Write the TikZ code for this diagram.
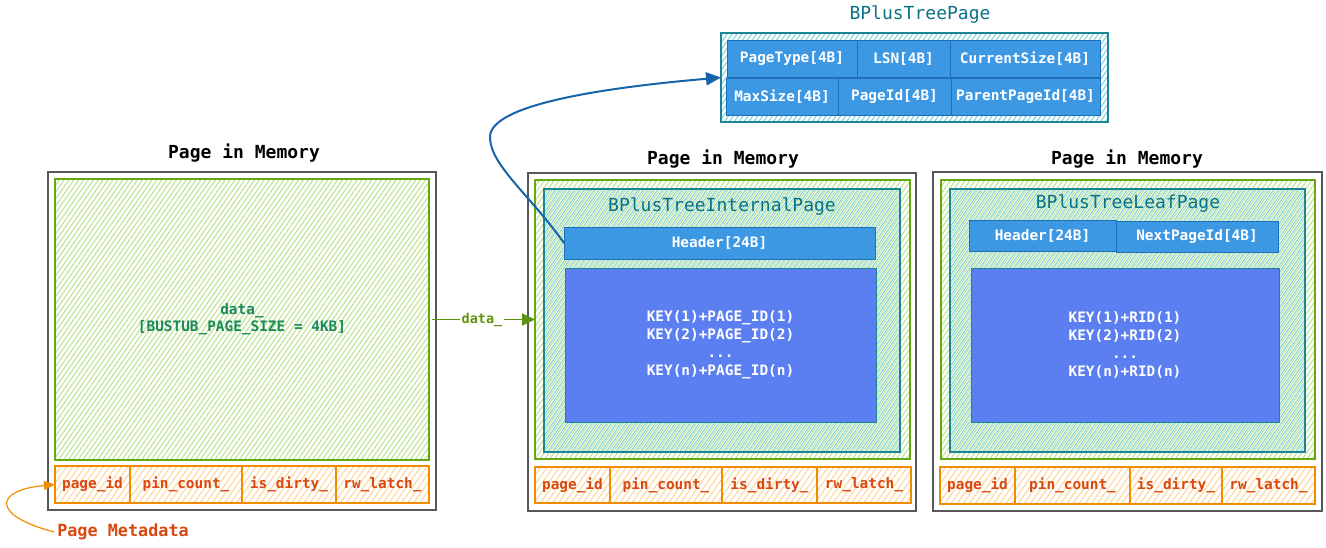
\documentclass[tikz,border=0pt]{standalone}
\usepackage{fontspec}
\setmainfont{DejaVu Sans Mono}
\usetikzlibrary{arrows.meta}

\definecolor{grayline}{HTML}{55595E}
\definecolor{greenline}{HTML}{66A80F}
\definecolor{greenhatch}{HTML}{BFE494}
\definecolor{tealline}{HTML}{1A8596}
\definecolor{tealhatch}{HTML}{86D4DC}
\definecolor{bluefill}{HTML}{3D98E4}
\definecolor{blueline}{HTML}{1F6FB8}
\definecolor{keyfill}{HTML}{5B7EF0}
\definecolor{orangeline}{HTML}{F08C00}
\definecolor{orangehatch}{HTML}{FFD79E}
\definecolor{metatext}{HTML}{D9480F}
\definecolor{titleteal}{HTML}{0B7285}
\definecolor{datatext}{HTML}{1B8A5A}
\definecolor{arrowblue}{HTML}{1864AB}
\definecolor{arrowgreen}{HTML}{5C940D}

\newcommand\cellfont{\bfseries\fontsize{14.4}{18}\selectfont}
\newcommand\titlefont{\fontsize{18}{22}\selectfont}
\newcommand\pagefont{\bfseries\fontsize{18}{22}\selectfont}

% a rectangle node given by its two corners
\newcommand\boxat[7]{%
  \pgfmathsetmacro\mybw{#5-#3}%
  \pgfmathsetmacro\mybh{#6-#4}%
  \node[#1, minimum width=\mybw pt, minimum height=\mybh pt, inner sep=0pt, outer sep=0pt]
    (#2) at ({(#3+#5)/2},{(#4+#6)/2}) {#7};}

% slanted hatching inside a rectangle: corners, colour, spacing, offset, line width
\newcommand\hatchbox[8]{%
  \begin{scope}
    \clip (#1,#2) rectangle (#3,#4);
    \pgfmathsetmacro\hh{#4-#2}%
    \pgfmathsetmacro\hs{#6/sin(55)}%
    \pgfmathsetmacro\hd{\hh/tan(55)}%
    \pgfmathtruncatemacro\hn{(#3-#1+\hd)/\hs+1}%
    \foreach \k in {0,...,\hn}{
      \draw[#5, line width=#8] ({#1-\hd+#7+\k*\hs},#4) -- ++(\hd,-\hh);
    }
  \end{scope}}

\tikzset{
  pagebox/.style={draw=grayline, line width=1.4pt, fill=white},
  databox/.style={draw=greenline, line width=1.2pt},
  tealbox/.style={draw=tealline, line width=1.2pt},
  fieldcell/.style={draw=blueline, line width=1pt, fill=bluefill, text=white, font=\cellfont},
  keyarea/.style={draw=tealline, line width=1pt, fill=keyfill, text=white, font=\cellfont, align=center},
  metacell/.style={draw=orangeline, line width=1.2pt, text=metatext, font=\cellfont},
  pagetitle/.style={font=\pagefont, text=black},
  structtitle/.style={font=\titlefont, text=titleteal},
  bluearrow/.style={draw=arrowblue, line width=2pt, -{Triangle[length=15pt,width=13pt]}},
  greenarrow/.style={draw=arrowgreen, line width=1.8pt, -{Triangle[length=13pt,width=12pt]}},
  orangearrow/.style={draw=orangeline, line width=1.2pt, -{Triangle[length=11pt,width=9pt]}},
}

\begin{document}
\begin{tikzpicture}[x=1pt,y=-1pt]
\useasboundingbox[fill=white] (0,0) rectangle (1326,547);

% ---------- plain page ----------
\node[pagetitle] (ttlA) at (244,153) {Page in Memory};
\boxat{pagebox}{pageA}{48}{172}{436}{510}{}
\hatchbox{55}{179}{429}{460}{greenhatch}{4}{0}{1.1pt}
\boxat{databox, align=center, text=datatext, font=\bfseries\fontsize{14.4}{17}\selectfont}{dataA}{55}{179}{429}{460}{data\_\\{[}BUSTUB\_PAGE\_SIZE = 4KB{]}}
\hatchbox{55}{466}{429}{503}{orangehatch}{5}{0}{1.1pt}
\boxat{metacell}{pidA}{55}{466}{130}{503}{page\_id}
\boxat{metacell}{pinA}{130}{466}{242}{503}{pin\_count\_}
\boxat{metacell}{dirA}{242}{466}{336}{503}{is\_dirty\_}
\boxat{metacell}{latA}{336}{466}{429}{503}{rw\_latch\_}

% ---------- internal page ----------
\node[pagetitle] (ttlB) at (723,159) {Page in Memory};
\boxat{pagebox}{pageB}{528}{173}{916}{511}{}
\hatchbox{535}{180}{910}{459}{greenhatch}{4}{0}{1.1pt}
\boxat{databox}{greenB}{535}{180}{910}{459}{}
\hatchbox{544}{189}{900}{452}{tealhatch}{4}{2}{1.1pt}
\boxat{tealbox}{tealB}{544}{189}{900}{452}{}
\node[structtitle] (nameB) at (722,207) {BPlusTreeInternalPage};
\boxat{fieldcell}{hdrB}{564}{227}{875}{259}{Header[24B]}
\boxat{keyarea}{keyB}{565}{268}{876}{422}{KEY(1)+PAGE\_ID(1)\\KEY(2)+PAGE\_ID(2)\\...\\KEY(n)+PAGE\_ID(n)}
\hatchbox{535}{467}{911}{503}{orangehatch}{5}{0}{1.1pt}
\boxat{metacell}{pidB}{535}{467}{610}{503}{page\_id}
\boxat{metacell}{pinB}{610}{467}{722}{503}{pin\_count\_}
\boxat{metacell}{dirB}{722}{467}{817}{503}{is\_dirty\_}
\boxat{metacell}{latB}{817}{467}{911}{503}{rw\_latch\_}

% ---------- leaf page ----------
\node[pagetitle] (ttlC) at (1127,159) {Page in Memory};
\boxat{pagebox}{pageC}{933}{172}{1322}{511}{}
\hatchbox{941}{180}{1315}{459}{greenhatch}{4}{0}{1.1pt}
\boxat{databox}{greenC}{941}{180}{1315}{459}{}
\hatchbox{950}{189}{1305}{452}{tealhatch}{4}{2}{1.1pt}
\boxat{tealbox}{tealC}{950}{189}{1305}{452}{}
\node[structtitle] (nameC) at (1128,204) {BPlusTreeLeafPage};
\boxat{fieldcell}{hdrC}{969}{220}{1116}{251}{Header[24B]}
\boxat{fieldcell}{nextC}{1116}{221}{1278}{252}{NextPageId[4B]}
\boxat{keyarea}{keyC}{971}{268}{1279}{422}{KEY(1)+RID(1)\\KEY(2)+RID(2)\\...\\KEY(n)+RID(n)}
\hatchbox{940}{467}{1315}{504}{orangehatch}{5}{0}{1.1pt}
\boxat{metacell}{pidC}{940}{467}{1015}{504}{page\_id}
\boxat{metacell}{pinC}{1015}{467}{1130}{504}{pin\_count\_}
\boxat{metacell}{dirC}{1130}{467}{1222}{504}{is\_dirty\_}
\boxat{metacell}{latC}{1222}{467}{1315}{504}{rw\_latch\_}

% ---------- common header layout ----------
\node[structtitle] (nameH) at (920,15) {BPlusTreePage};
\hatchbox{721}{33}{1108}{122}{tealhatch}{4}{2}{1.1pt}
\boxat{tealbox}{bpt}{721}{33}{1108}{122}{}
\boxat{fieldcell}{ptype}{727}{40}{857}{77}{PageType[4B]}
\boxat{fieldcell}{lsn}{857}{40}{950}{77}{LSN[4B]}
\boxat{fieldcell}{csize}{950}{40}{1100}{77}{CurrentSize[4B]}
\boxat{fieldcell}{msize}{726}{78}{838}{115}{MaxSize[4B]}
\boxat{fieldcell}{pgid}{838}{78}{951}{115}{PageId[4B]}
\boxat{fieldcell}{ppid}{951}{78}{1100}{115}{ParentPageId[4B]}

% ---------- connectors ----------
\coordinate (bend) at (490,137);
\draw[bluearrow] (hdrB.west) .. controls (530,195) and (490,165) .. (bend)
  .. controls (490,105) and (600,88) .. (bpt.west);

\draw[greenarrow, shorten <=3pt] (dataA.east) --
  node[fill=white, inner sep=2pt, text=arrowgreen, font=\bfseries\fontsize{13.5}{16}\selectfont] (dlabel) {data\_}
  (greenB.west);

\node[text=metatext, font=\bfseries\fontsize{16.8}{20}\selectfont, inner sep=3pt] (pmeta) at (123,532) {Page Metadata};
\draw[orangearrow] (pmeta.west) .. controls (-10,515) and (-5,490) .. (pidA.west);
\end{tikzpicture}
\end{document}
